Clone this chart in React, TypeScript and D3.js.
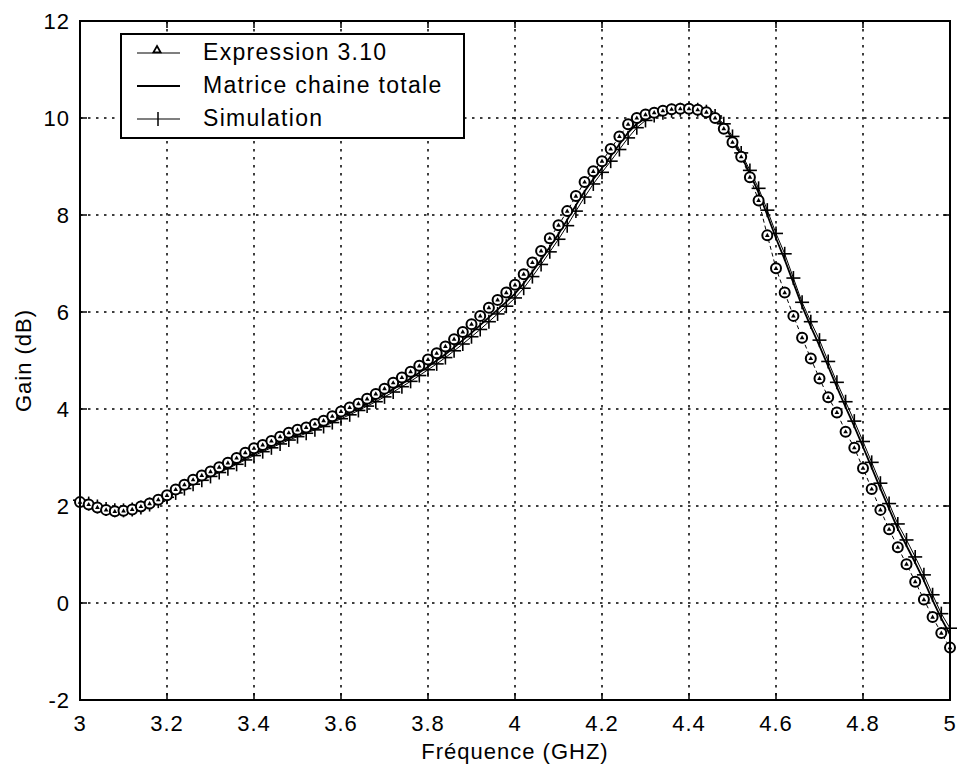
import React from 'react';
import * as d3 from 'd3';

const freq = [
  3.00, 3.02, 3.04, 3.06, 3.08, 3.10, 3.12, 3.14, 3.16, 3.18,
  3.20, 3.22, 3.24, 3.26, 3.28, 3.30, 3.32, 3.34, 3.36, 3.38,
  3.40, 3.42, 3.44, 3.46, 3.48, 3.50, 3.52, 3.54, 3.56, 3.58,
  3.60, 3.62, 3.64, 3.66, 3.68, 3.70, 3.72, 3.74, 3.76, 3.78,
  3.80, 3.82, 3.84, 3.86, 3.88, 3.90, 3.92, 3.94, 3.96, 3.98,
  4.00, 4.02, 4.04, 4.06, 4.08, 4.10, 4.12, 4.14, 4.16, 4.18,
  4.20, 4.22, 4.24, 4.26, 4.28, 4.30, 4.32, 4.34, 4.36, 4.38,
  4.40, 4.42, 4.44, 4.46, 4.48, 4.50, 4.52, 4.54, 4.56, 4.58,
  4.60, 4.62, 4.64, 4.66, 4.68, 4.70, 4.72, 4.74, 4.76, 4.78,
  4.80, 4.82, 4.84, 4.86, 4.88, 4.90, 4.92, 4.94, 4.96, 4.98,
  5.00,
];

const expression = [
  2.08, 2.03, 1.97, 1.92, 1.89, 1.90, 1.93, 1.99, 2.05, 2.13,
  2.22, 2.34, 2.44, 2.54, 2.63, 2.71, 2.80, 2.89, 2.99, 3.10,
  3.19, 3.26, 3.34, 3.43, 3.51, 3.57, 3.62, 3.69, 3.76, 3.85,
  3.95, 4.03, 4.11, 4.21, 4.31, 4.42, 4.54, 4.65, 4.77, 4.89,
  5.02, 5.15, 5.29, 5.44, 5.59, 5.75, 5.92, 6.09, 6.25, 6.40,
  6.56, 6.78, 7.02, 7.26, 7.52, 7.79, 8.08, 8.39, 8.68, 8.90,
  9.11, 9.36, 9.62, 9.87, 10.00, 10.07, 10.11, 10.15, 10.18, 10.19,
  10.19, 10.17, 10.12, 10.00, 9.78, 9.50, 9.20, 8.78, 8.30, 7.58,
  6.90, 6.40, 5.92, 5.47, 5.04, 4.63, 4.24, 3.93, 3.53, 3.20,
  2.78, 2.35, 1.92, 1.52, 1.15, 0.80, 0.44, 0.07, -0.29, -0.62,
  -0.92,
];

const matrice = [
  2.10, 2.04, 1.98, 1.93, 1.90, 1.91, 1.93, 1.98, 2.04, 2.11,
  2.19, 2.29, 2.38, 2.47, 2.56, 2.64, 2.72, 2.80, 2.89, 2.99,
  3.08, 3.16, 3.24, 3.32, 3.40, 3.47, 3.54, 3.61, 3.68, 3.76,
  3.85, 3.93, 4.02, 4.11, 4.21, 4.31, 4.41, 4.52, 4.63, 4.75,
  4.87, 5.00, 5.13, 5.27, 5.42, 5.57, 5.73, 5.89, 6.05, 6.21,
  6.38, 6.59, 6.83, 7.08, 7.34, 7.61, 7.90, 8.20, 8.49, 8.74,
  8.97, 9.21, 9.46, 9.70, 9.88, 10.00, 10.08, 10.13, 10.16, 10.18,
  10.18, 10.17, 10.12, 10.02, 9.84, 9.57, 9.22, 8.85, 8.46, 8.00,
  7.52, 7.08, 6.60, 6.12, 5.70, 5.30, 4.88, 4.45, 4.04, 3.64,
  3.22, 2.79, 2.36, 1.94, 1.53, 1.18, 0.83, 0.46, 0.06, -0.32,
  -0.65,
];

const simulation = [
  2.12, 2.05, 1.99, 1.94, 1.91, 1.91, 1.93, 1.97, 2.03, 2.10,
  2.18, 2.27, 2.36, 2.45, 2.53, 2.61, 2.69, 2.77, 2.86, 2.95,
  3.04, 3.12, 3.20, 3.28, 3.36, 3.43, 3.50, 3.57, 3.64, 3.72,
  3.80, 3.88, 3.97, 4.06, 4.15, 4.25, 4.35, 4.46, 4.57, 4.69,
  4.81, 4.93, 5.06, 5.20, 5.34, 5.49, 5.64, 5.80, 5.96, 6.12,
  6.29, 6.49, 6.73, 6.98, 7.24, 7.50, 7.78, 8.08, 8.37, 8.64,
  8.88, 9.11, 9.35, 9.59, 9.80, 9.95, 10.05, 10.11, 10.15, 10.17,
  10.18, 10.17, 10.13, 10.04, 9.88, 9.62, 9.28, 8.92, 8.55, 8.10,
  7.62, 7.20, 6.70, 6.20, 5.80, 5.42, 4.98, 4.55, 4.15, 3.75,
  3.33, 2.90, 2.47, 2.05, 1.63, 1.30, 0.95, 0.58, 0.17, -0.22,
  -0.52,
];

const xTicks = [3, 3.2, 3.4, 3.6, 3.8, 4, 4.2, 4.4, 4.6, 4.8, 5];
const xTickLabels = ['3', '3.2', '3.4', '3.6', '3.8', '4', '4.2', '4.4', '4.6', '4.8', '5'];
const yTicks = [-2, 0, 2, 4, 6, 8, 10, 12];
const yTickLabels = ['-2', '0', '2', '4', '6', '8', '10', '12'];
const legendLabels = ['Expression 3.10', 'Matrice chaine totale', 'Simulation'];
const xTitle = 'Fréquence (GHZ)';
const yTitle = 'Gain (dB)';

const FONT = '"Liberation Sans", Arial, Helvetica, sans-serif';

export default function App() {
  const W = 957;
  const H = 766;
  const L = 80, R = 950, T = 21, B = 700;
  const x = d3.scaleLinear().domain([3, 5]).range([L, R]);
  const y = d3.scaleLinear().domain([-2, 12]).range([B, T]);

  const mkLine = (vals: number[]) =>
    d3.line<number>().x((_, i) => x(freq[i])).y((d) => y(d))(vals) || '';

  const tri = (cx: number, cy: number, s: number) =>
    `M${cx},${cy - s} L${cx + s * 0.9},${cy + s * 0.6} L${cx - s * 0.9},${cy + s * 0.6} Z`;

  const gridStyle = { stroke: '#000', strokeWidth: 1.5, strokeDasharray: '2.5,5.5' };
  const textStyle: React.CSSProperties = { fontFamily: FONT, fontSize: 22, letterSpacing: '1px' };

  const legendY = [53, 86, 119];

  return (
    <svg width={W} height={H} style={{ position: 'absolute', left: 0, top: 0, background: '#fff' }}>
      <rect x={0} y={0} width={W} height={H} fill="#fff" />
      {/* grid */}
      {xTicks.slice(1, -1).map((t) => (
        <line key={'gx' + t} x1={x(t)} x2={x(t)} y1={T} y2={B} style={gridStyle} />
      ))}
      {yTicks.slice(1, -1).map((t) => (
        <line key={'gy' + t} x1={L} x2={R} y1={y(t)} y2={y(t)} style={gridStyle} />
      ))}
      {/* ticks */}
      {xTicks.map((t) => (
        <g key={'tx' + t}>
          <line x1={x(t)} x2={x(t)} y1={B} y2={B - 7} stroke="#000" strokeWidth={1.5} />
          <line x1={x(t)} x2={x(t)} y1={T} y2={T + 7} stroke="#000" strokeWidth={1.5} />
        </g>
      ))}
      {yTicks.map((t) => (
        <g key={'ty' + t}>
          <line x1={L} x2={L + 7} y1={y(t)} y2={y(t)} stroke="#000" strokeWidth={1.5} />
          <line x1={R} x2={R - 7} y1={y(t)} y2={y(t)} stroke="#000" strokeWidth={1.5} />
        </g>
      ))}
      {/* series lines */}
      <path d={mkLine(matrice)} fill="none" stroke="#000" strokeWidth={1.8} />
      <path d={mkLine(simulation)} fill="none" stroke="#000" strokeWidth={1} />
      <path d={mkLine(expression)} fill="none" stroke="#000" strokeWidth={1} strokeDasharray="4,3" />
      {/* simulation markers */}
      {simulation.map((v, i) => (
        <g key={'s' + i} stroke="#000" strokeWidth={1.6}>
          <line x1={x(freq[i]) - 7} x2={x(freq[i]) + 7} y1={y(v)} y2={y(v)} />
          <line x1={x(freq[i])} x2={x(freq[i])} y1={y(v) - 7} y2={y(v) + 7} />
        </g>
      ))}
      {/* expression markers */}
      {expression.map((v, i) => (
        <g key={'e' + i}>
          <circle cx={x(freq[i])} cy={y(v)} r={5} fill="#fff" stroke="#000" strokeWidth={2} />
          <path d={tri(x(freq[i]), y(v), 2.6)} fill="#000" />
        </g>
      ))}
      {/* axes box */}
      <rect x={L} y={T} width={R - L} height={B - T} fill="none" stroke="#000" strokeWidth={2} />
      {/* tick labels */}
      {xTicks.map((t, i) => (
        <text key={'lx' + t} x={x(t)} y={731} textAnchor="middle" style={textStyle}>
          {xTickLabels[i]}
        </text>
      ))}
      {yTicks.map((t, i) => (
        <text key={'ly' + t} x={70} y={y(t) + 8} textAnchor="end" style={textStyle}>
          {yTickLabels[i]}
        </text>
      ))}
      <text x={(L + R) / 2} y={759} textAnchor="middle" style={textStyle}>{xTitle}</text>
      <text transform={`translate(31,${(T + B) / 2}) rotate(-90)`} textAnchor="middle" style={textStyle}>
        {yTitle}
      </text>
      {/* legend */}
      <rect x={121} y={34} width={343} height={104} fill="#fff" stroke="#000" strokeWidth={2} />
      <line x1={137} x2={180} y1={legendY[0]} y2={legendY[0]} stroke="#000" strokeWidth={1.2} />
      <path d={tri(157, legendY[0] - 3, 4)} fill="none" stroke="#000" strokeWidth={1.8} />
      <line x1={137} x2={180} y1={legendY[1]} y2={legendY[1]} stroke="#000" strokeWidth={2.2} />
      <line x1={137} x2={180} y1={legendY[2]} y2={legendY[2]} stroke="#000" strokeWidth={1.2} />
      <line x1={158} x2={158} y1={legendY[2] - 7} y2={legendY[2] + 7} stroke="#000" strokeWidth={1.5} />
      {legendLabels.map((lab, i) => (
        <text key={lab} x={203} y={legendY[i] + 7} style={{ ...textStyle, fontSize: 23, letterSpacing: '1.3px' }}>
          {lab}
        </text>
      ))}
    </svg>
  );
}
